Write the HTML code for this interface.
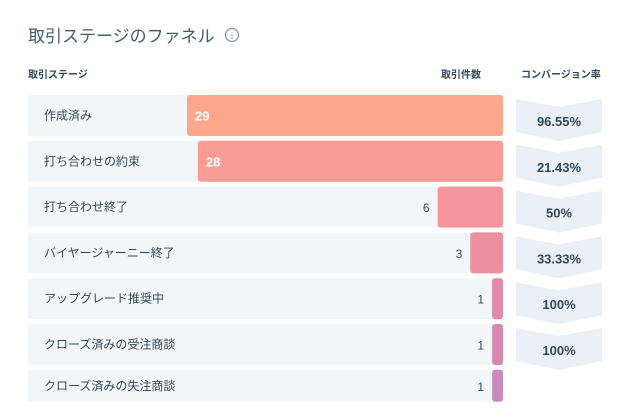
<!DOCTYPE html>
<html><head><meta charset="utf-8"><style>
body{margin:0;width:643px;height:420px;background:#fff;font-family:"Liberation Sans","Noto Sans CJK JP",sans-serif;color:#33475b;overflow:hidden;position:relative}
.t{position:absolute;white-space:nowrap}
</style></head><body>
<div class="t" style="left:28px;top:22px;font-size:17px;color:#425b76">取引ステージのファネル</div>
<svg style="position:absolute;left:224px;top:27px" width="16" height="16"><circle cx="8" cy="8" r="6.5" fill="none" stroke="#7c98b6" stroke-width="1.3"/><text x="8" y="12" font-size="9" text-anchor="middle" fill="#7c98b6" font-family="Liberation Serif">i</text></svg>
<div class="t" style="left:28px;top:66px;font-size:10px;font-weight:bold">取引ステージ</div>
<div class="t" style="left:441px;top:66px;font-size:10px;font-weight:bold">取引件数</div>
<div class="t" style="left:521px;top:66px;font-size:10px;font-weight:bold">コンバージョン率</div>
<svg id="c" width="643" height="420" style="position:absolute;left:0;top:0"></svg>
<script>
const stages=["作成済み","打ち合わせの約束","打ち合わせ終了","バイヤージャーニー終了","アップグレード推奨中","クローズ済みの受注商談","クローズ済みの失注商談"];
const counts=[29,28,6,3,1,1,1];
const rates=["96.55%","21.43%","50%","33.33%","100%","100%"];
const colors=["#fca68b","#f99c93","#f5959c","#ec8da0","#e089a8","#d888b0","#c98bbd"];
const svg=document.getElementById('c');const NS='http://www.w3.org/2000/svg';
const right=503,maxW=316,maxV=Math.max(...counts);
const x=v=>v/maxV*maxW;
function mk(t,a){const e=document.createElementNS(NS,t);for(const k in a)e.setAttribute(k,a[k]);svg.appendChild(e);return e;}
stages.forEach((s,i)=>{
 const y=95+i*45.8,h=i==6?32:41;
 const bg=mk('rect',{x:28,y:y,width:right-28,height:h,fill:'#f3f6f9'});
 
 
 const lb=mk('text',{x:44,y:y+h/2+4,'font-size':12,fill:'#33475b'});lb.textContent=s;
 
 
 const w=Math.max(x(counts[i]),9);
 const b=mk('rect',{x:right-w,y:y,width:w,height:h,rx:3,fill:colors[i]});
 
 
 let vt;
 if(w>120){vt=mk('text',{x:right-w+8,y:y+h/2+5,'font-size':13,'font-weight':'bold',fill:'#fff'});}
 else{vt=mk('text',{x:right-w-8,y:y+h/2+5,'font-size':12,fill:'#33475b','text-anchor':'end'});}
 vt.textContent=counts[i];
 
 
});
rates.forEach((r,i)=>{
 const y=99+i*45.8,l=516,rr=602,c=559;
 const p=mk('polygon',{points:`${l},${y} ${c},${y+8} ${rr},${y} ${rr},${y+33} ${c},${y+42} ${l},${y+33}`,fill:'#eaf0f6'});
 
 
 const t=mk('text',{x:c,y:y+27,'font-size':13,'font-weight':'bold',fill:'#33475b','text-anchor':'middle'});t.textContent=r;
 
 
});
</script>
</body></html>
